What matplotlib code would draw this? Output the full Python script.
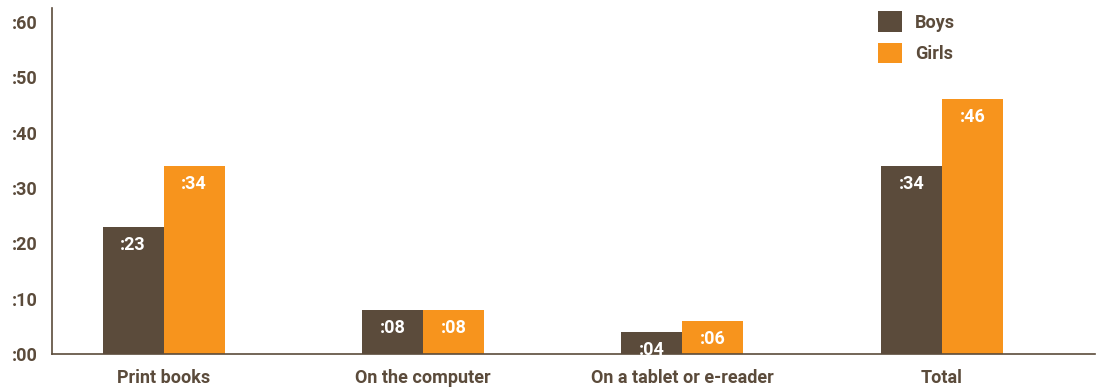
import numpy as np
import matplotlib.pyplot as plt

categories = ["Print books", "On the computer", "On a tablet or e-reader", "Total"]
boys = [23, 8, 4, 34]
girls = [34, 8, 6, 46]
yticks = [0, 10, 20, 30, 40, 50, 60]
ytick_labels = [":00", ":10", ":20", ":30", ":40", ":50", ":60"]

brown = "#5b4b3b"
orange = "#f7941d"

plt.rcParams['font.family'] = ['Roboto', 'DejaVu Sans']
plt.rcParams['font.weight'] = 'bold'

fig = plt.figure(figsize=(10.97, 3.90), dpi=100)
ax = fig.add_axes([52 / 1097, 36 / 390, (1095 - 52) / 1097, 346 / 390])

x = np.arange(len(categories))
w = 0.235
b1 = ax.bar(x - w / 2, boys, w, color=brown, label="Boys")
b2 = ax.bar(x + w / 2, girls, w, color=orange, label="Girls")

# value labels sit just inside the top of each bar
for bars, vals in ((b1, boys), (b2, girls)):
    for rect, v in zip(bars, vals):
        ax.annotate(":%02d" % v, (rect.get_x() + rect.get_width() / 2, v),
                    xytext=(0, -13), textcoords="offset points",
                    ha="center", va="center", color="white",
                    fontsize=13, fontweight="bold")

ax.set_xlim(-0.43, 3.59)
ax.set_ylim(0, 62.5)
ax.set_xticks(x)
ax.set_xticklabels(categories, fontsize=13, color=brown, fontweight="bold")
ax.set_yticks(yticks)
ax.set_yticklabels(ytick_labels, fontsize=13, color=brown, fontweight="bold")
ax.tick_params(axis="both", length=0)
ax.tick_params(axis="y", pad=10)
ax.tick_params(axis="x", pad=11)

for s in ("top", "right"):
    ax.spines[s].set_visible(False)
for s in ("left", "bottom"):
    ax.spines[s].set_color(brown)
    ax.spines[s].set_linewidth(1.2)

leg = ax.legend(loc="upper left", bbox_to_anchor=(826 / 1043, 0.99), frameon=False,
                borderpad=0, borderaxespad=0,
                handlelength=1.35, handleheight=1.35, handletextpad=0.7,
                labelspacing=0.6, fontsize=13)
for t in leg.get_texts():
    t.set_color(brown)

fig.savefig("out.png", dpi=100)
